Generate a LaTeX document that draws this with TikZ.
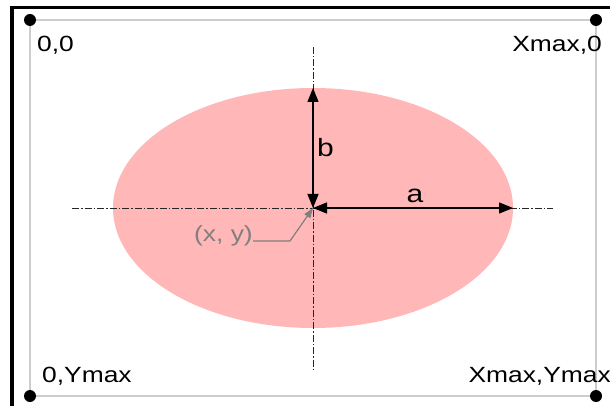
\documentclass[tikz,border=0pt]{standalone}
\usepackage{fontspec}
\setmainfont[FakeStretch=1.2]{Liberation Sans}
\usepackage{tikz}
\usetikzlibrary{arrows.meta, positioning, calc}
\definecolor{ellfill}{RGB}{255,183,183}
\definecolor{framegray}{RGB}{205,205,205}
\definecolor{leadgray}{RGB}{128,128,128}
\tikzset{
    corner/.style={circle, fill=black, inner sep=0pt, minimum size=12pt},
    cornerlbl/.style={inner sep=0pt, font=\fontsize{22}{26}\selectfont},
    dimlbl/.style={inner sep=0pt, font=\fontsize{25}{29}\selectfont},
    axis/.style={line width=0.9pt, black!85, dash pattern=on 7pt off 2pt on 1.5pt off 2pt},
    dimarrow/.style={{Triangle[length=14pt, width=11pt]}-{Triangle[length=14pt, width=11pt]}, line width=1.4pt},
    leader/.style={-{Triangle[length=10pt, width=7pt]}, line width=1.2pt, draw=leadgray},
}

\begin{document}
\begin{tikzpicture}[x=1pt, y=-1pt]
    \useasboundingbox (0,0) rectangle (610,406);
    \clip (0,0) rectangle (610,406);
    \fill[white] (0,0) rectangle (610,406);
    \draw[line width=3.5pt] (12,7.5) rectangle (640,440);
    \draw[framegray, line width=1.4pt] (30,20) rectangle (596,396);

    \coordinate (ctr) at (313,208);
    \coordinate (top) at (313,88);
    \coordinate (rgt) at (513,208);
    \coordinate (axl) at (72,208);
    \coordinate (axr) at (553,208);
    \coordinate (axt) at (313,47);
    \coordinate (axb) at (313,369);
    \coordinate (bend) at (290,241);

    \fill[ellfill] (ctr) ellipse [x radius=200, y radius=120];

    \node[corner] (c00) at (30,20) {};
    \node[corner] (cx0) at (596,20) {};
    \node[corner] (c0y) at (30,396) {};
    \node[corner] (cxy) at (596,396) {};

    \node[cornerlbl, anchor=base west] (l00) at (37,52) {0,0};
    \node[cornerlbl, anchor=base east] (lx0) at (602,52) {Xmax,0};
    \node[cornerlbl, anchor=base west] (l0y) at (42,382) {0,Ymax};
    \node[cornerlbl, anchor=base east] (lxy) at (611,382) {Xmax,Ymax};

    \node[dimlbl, anchor=base west] (lb) at (317,157) {b};
    \node[dimlbl, anchor=base] (la) at (415,202) {a};
    \node[cornerlbl, text=leadgray, anchor=base east] (lpos) at (253,241) {(x, y)};

    \draw[axis] (axl) -- (axr);
    \draw[axis] (axt) -- (axb);
    \draw[dimarrow] (ctr) -- (top);
    \draw[dimarrow] (ctr) -- (rgt);
    \draw[leader] (lpos.base east) -- (bend) -- (ctr);
\end{tikzpicture}
\end{document}
